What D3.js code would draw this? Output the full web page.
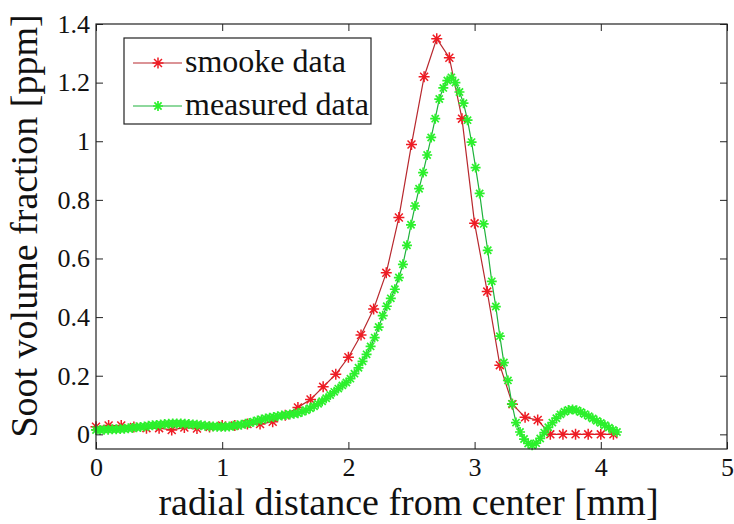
<!DOCTYPE html>
<html>
<head>
<meta charset="utf-8">
<script src="https://cdn.jsdelivr.net/npm/d3@7"></script>
<style>
  text { font-family: "Liberation Serif" !important; }
</style>
</head>
<body style="margin:0">
<svg id="chart" width="734" height="524"></svg>
<script>
// Soot volume fraction vs radial distance: smooke vs measured

const xTicks = [0, 1, 2, 3, 4, 5];
const yTicks = [0, 0.2, 0.4, 0.6, 0.8, 1, 1.2, 1.4];

// smooke data (every 0.1 mm)
const smookeX = [0, 0.1, 0.2, 0.3, 0.4, 0.5, 0.6, 0.7, 0.8, 0.9,
    1.0, 1.1, 1.2, 1.3, 1.4, 1.5, 1.6, 1.7, 1.8, 1.9,
    2.0, 2.1, 2.2, 2.3, 2.4, 2.5, 2.6, 2.7, 2.8, 2.9,
    3.0, 3.1, 3.2, 3.3, 3.4, 3.5, 3.6, 3.7, 3.8, 3.9, 4.0, 4.1];
const smookeY = [0.026, 0.030, 0.030, 0.025, 0.021, 0.021, 0.015, 0.023, 0.020, 0.025,
    0.030, 0.030, 0.035, 0.035, 0.043, 0.065, 0.092, 0.119, 0.162, 0.205,
    0.263, 0.339, 0.428, 0.551, 0.740, 0.989, 1.220, 1.350, 1.285, 1.077,
    0.720, 0.487, 0.236, 0.103, 0.058, 0.049, 0.000, 0.000, 0.000, 0.000, 0.000, 0.000];

// measured data (dense sampling)
const measuredX = [0.000, 0.032, 0.064, 0.096, 0.128, 0.160, 0.192, 0.224, 0.256, 0.288,
    0.320, 0.352, 0.384, 0.416, 0.448, 0.480, 0.512, 0.544, 0.576, 0.608,
    0.640, 0.672, 0.704, 0.736, 0.768, 0.800, 0.832, 0.864, 0.896, 0.928,
    0.960, 0.992, 1.024, 1.056, 1.088, 1.120, 1.152, 1.184, 1.216, 1.248,
    1.280, 1.312, 1.344, 1.376, 1.408, 1.440, 1.472, 1.504, 1.536, 1.568,
    1.600, 1.632, 1.664, 1.696, 1.728, 1.760, 1.792, 1.824, 1.856, 1.888,
    1.920, 1.952, 1.984, 2.016, 2.048, 2.080, 2.112, 2.144, 2.176, 2.208,
    2.240, 2.272, 2.304, 2.336, 2.368, 2.400, 2.432, 2.464, 2.496, 2.528,
    2.560, 2.592, 2.624, 2.656, 2.688, 2.720, 2.752, 2.784, 2.816, 2.848,
    2.880, 2.912, 2.944, 2.976, 3.008, 3.040, 3.072, 3.104, 3.136, 3.168,
    3.200, 3.232, 3.264, 3.296, 3.328, 3.360, 3.392, 3.424, 3.456, 3.488,
    3.520, 3.552, 3.584, 3.616, 3.648, 3.680, 3.712, 3.744, 3.776, 3.808,
    3.840, 3.872, 3.904, 3.936, 3.968, 4.000, 4.032, 4.064, 4.096, 4.128];
const measuredY = [0.015, 0.015, 0.016, 0.016, 0.017, 0.017, 0.018, 0.019, 0.021, 0.022,
    0.024, 0.025, 0.027, 0.029, 0.031, 0.032, 0.034, 0.035, 0.036, 0.037,
    0.037, 0.037, 0.036, 0.035, 0.034, 0.033, 0.031, 0.029, 0.028, 0.027,
    0.026, 0.026, 0.026, 0.027, 0.029, 0.031, 0.033, 0.036, 0.039, 0.043,
    0.047, 0.051, 0.054, 0.057, 0.059, 0.062, 0.064, 0.066, 0.068, 0.070,
    0.072, 0.077, 0.082, 0.089, 0.096, 0.104, 0.113, 0.123, 0.134, 0.145,
    0.156, 0.167, 0.177, 0.190, 0.207, 0.227, 0.249, 0.273, 0.300, 0.330,
    0.366, 0.405, 0.437, 0.464, 0.495, 0.535, 0.580, 0.645, 0.715, 0.779,
    0.838, 0.893, 0.953, 1.013, 1.077, 1.144, 1.182, 1.207, 1.218, 1.200,
    1.168, 1.130, 1.072, 0.997, 0.910, 0.822, 0.718, 0.628, 0.522, 0.436,
    0.335, 0.245, 0.184, 0.104, 0.040, 0.008, -0.016, -0.031, -0.037, -0.030,
    -0.014, 0.006, 0.024, 0.040, 0.055, 0.068, 0.077, 0.083, 0.085, 0.082,
    0.076, 0.069, 0.062, 0.054, 0.046, 0.039, 0.031, 0.023, 0.015, 0.008];

const seriesNames = ["smooke data", "measured data"];

const margin = { left: 96, right: 7, top: 24, bottom: 75 };
const W = 734, H = 524;
const TICK = 7;

const svg = d3.select("#chart").attr("font-family", "Liberation Serif");
const plotW = W - margin.left - margin.right;
const plotH = H - margin.top - margin.bottom;

const x = d3.scaleLinear().domain([0, 5]).range([margin.left, margin.left + plotW]);
const y = d3.scaleLinear().domain([-0.05, 1.4]).range([margin.top + plotH, margin.top]);

const series = [
    { name: seriesNames[0], xs: smookeX, ys: smookeY, line: "#b8282e", mark: "#ee1c24", r: 5.5, sw: 1.5 },
    { name: seriesNames[1], xs: measuredX, ys: measuredY, line: "#1fb23c", mark: "#2cf02c", r: 5, sw: 1.7 },
];

// asterisk marker
function starPath(r) {
    const a = r * 0.72;
    return `M${-r},0H${r}M0,${-r}V${r}M${-a},${-a}L${a},${a}M${-a},${a}L${a},${-a}`;
}

// serif text helper
function serif(sel, size) {
    return sel
        .attr("font-family", "Liberation Serif")
        .style("font-family", '"Liberation Serif"')
        .attr("font-size", size)
        .attr("fill", "#111");
}

// curves
const line = d3.line().x(d => x(d[0])).y(d => y(d[1]));
series.forEach(s => {
    const pts = s.xs.map((v, i) => [v, s.ys[i]]);
    const g = svg.append("g").attr("class", "series");
    g.append("path")
        .attr("d", line(pts))
        .attr("fill", "none")
        .attr("stroke", s.line)
        .attr("stroke-width", 1.2);
    g.selectAll("path.mk")
        .data(pts)
        .enter()
        .append("path")
        .attr("class", "mk")
        .attr("transform", d => `translate(${x(d[0])},${y(d[1])})`)
        .attr("d", starPath(s.r))
        .attr("stroke", s.mark)
        .attr("stroke-width", s.sw)
        .attr("fill", "none");
});

// axes, MATLAB-like: inward ticks on all four sides
const axBottom = svg.append("g")
    .attr("transform", `translate(0,${margin.top + plotH})`)
    .call(d3.axisBottom(x).tickValues(xTicks).tickSize(-TICK).tickPadding(9).tickFormat(d3.format("d")));
const axLeft = svg.append("g")
    .attr("transform", `translate(${margin.left},0)`)
    .call(d3.axisLeft(y).tickValues(yTicks).tickSize(-TICK).tickPadding(6).tickFormat(d => String(d)));
const axTop = svg.append("g")
    .attr("transform", `translate(0,${margin.top})`)
    .call(d3.axisTop(x).tickValues(xTicks).tickSize(-TICK).tickFormat(""));
const axRight = svg.append("g")
    .attr("transform", `translate(${margin.left + plotW},0)`)
    .call(d3.axisRight(y).tickValues(yTicks).tickSize(-TICK).tickFormat(""));

[axBottom, axLeft, axTop, axRight].forEach(a => {
    a.attr("font-family", "Liberation Serif").attr("font-size", 26);
    a.select(".domain").remove();
    a.selectAll(".tick line").attr("stroke", "#222");
    serif(a.selectAll("text"), 26);
});

svg.append("rect")
    .attr("x", margin.left).attr("y", margin.top)
    .attr("width", plotW).attr("height", plotH)
    .attr("fill", "none")
    .attr("stroke", "#222")
    .attr("stroke-width", 1.2);

// axis labels
serif(svg.append("text"), 38)
    .attr("x", margin.left + plotW / 2 - 3)
    .attr("y", 515)
    .attr("text-anchor", "middle")
    .text("radial distance from center [mm]");

serif(svg.append("text"), 38)
    .attr("transform", "translate(37,226) rotate(-90)")
    .attr("text-anchor", "middle")
    .text("Soot volume fraction [ppm]");

// legend
const leg = svg.append("g").attr("transform", "translate(124,38)");
leg.append("rect")
    .attr("width", 247).attr("height", 86)
    .attr("fill", "#fff")
    .attr("stroke", "#222")
    .attr("stroke-width", 1.2);
series.forEach((s, i) => {
    const cy = 25 + i * 43;
    leg.append("line")
        .attr("x1", 9).attr("x2", 58)
        .attr("y1", cy).attr("y2", cy)
        .attr("stroke", s.line)
        .attr("stroke-width", 1.2);
    leg.append("path")
        .attr("transform", `translate(34,${cy})`)
        .attr("d", starPath(s.r))
        .attr("stroke", s.mark)
        .attr("stroke-width", s.sw)
        .attr("fill", "none");
    serif(leg.append("text"), 32)
        .attr("x", 61)
        .attr("y", cy + 9)
        .text(s.name);
});
</script>
</body>
</html>
